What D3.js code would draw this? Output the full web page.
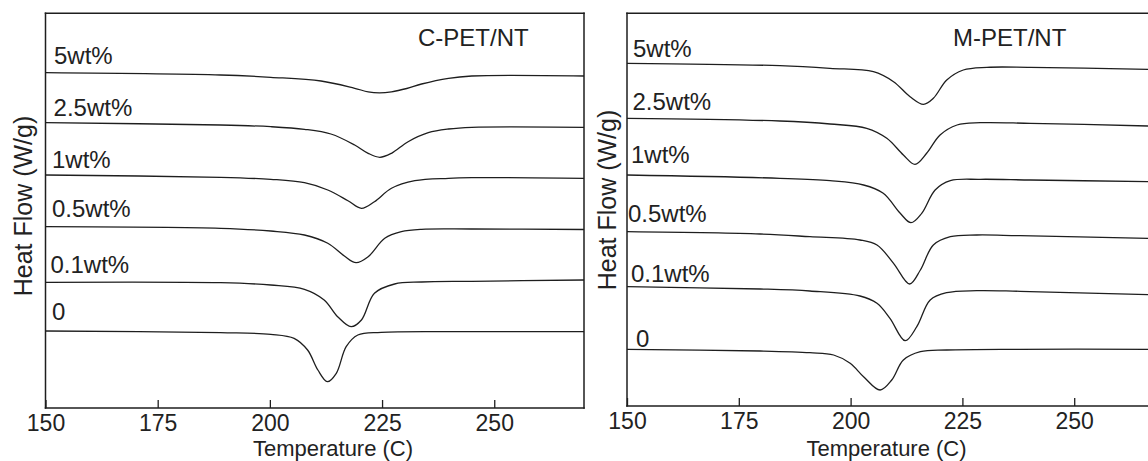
<!DOCTYPE html>
<html>
<head>
<meta charset="utf-8">
<script src="https://cdn.jsdelivr.net/npm/d3@7"></script>
<style>
  html, body { margin: 0; padding: 0; background: #fff; }
  svg { display: block; }
  text { font-family: "Liberation Sans", Arial, Helvetica, sans-serif; fill: #222; }
</style>
</head>
<body>
<svg id="chart" width="1148" height="461"></svg>
<script>
// ---------- data (Temperature °C, offset heat flow, arbitrary units) ----------
const seriesLabels = ["5wt%", "2.5wt%", "1wt%", "0.5wt%", "0.1wt%", "0"];
const xTicks = [150, 175, 200, 225, 250];
const panelTitles = ["C-PET/NT", "M-PET/NT"];
const xAxisTitle = "Temperature (C)";
const yAxisTitle = "Heat Flow (W/g)";

// C-PET/NT curves
const cpet5 = [[150,33.53],[189,33.3],[200.2,33.07],[211.4,32.7],[218.9,31.97],[221.9,31.62],[224.4,31.52],[227.1,31.62],[230.5,31.95],[233.8,32.4],[239.8,32.97],[245,33.2],[270,33.2]];
const cpet25 = [[150,28.53],[189,28.3],[200.2,28.13],[207.7,27.87],[213.6,27.4],[218.9,26.3],[221.9,25.47],[224.5,25.07],[227.1,25.47],[230.8,26.63],[235.3,27.53],[239.8,27.9],[245,28.07],[270,28.07]];
const cpet1 = [[150,23.3],[189,23.07],[200.2,22.87],[207.7,22.53],[212.9,21.8],[217.4,20.73],[220.4,19.97],[223.3,20.63],[227.1,21.97],[232.3,22.73],[239.8,22.97],[245,23.03],[270,22.97]];
const cpet05 = [[150,18.13],[189,17.97],[200.2,17.7],[207.7,17.3],[212.9,16.47],[216.6,15.2],[219.2,14.53],[221.9,15.13],[225.6,16.97],[229.3,17.63],[233.8,17.87],[245,17.9],[270,17.85]];
const cpet01 = [[150,12.57],[189,12.53],[200.2,12.3],[207.7,11.87],[212.1,10.8],[215.1,9.13],[218.1,8.13],[220.4,8.8],[223.3,11.47],[227.8,12.4],[233.8,12.6],[245,12.67],[270,12.8]];
const cpet0 = [[150,7.7],[189,7.53],[200.2,7.37],[205.4,6.97],[208.4,5.8],[210.7,3.8],[212.8,2.63],[214.8,3.47],[217.0,6.13],[219.6,7.3],[224.8,7.57],[245,7.63],[270,7.63]];

// M-PET/NT curves
const mpet5 = [[150,34.27],[184.2,34.03],[195.4,33.77],[205.1,33.43],[209.6,32.43],[213.3,30.93],[216.3,30.17],[218.5,30.77],[221.5,32.6],[225.2,33.6],[230.5,33.87],[240.2,33.87],[266.5,33.67]];
const mpet25 = [[150,28.77],[184.2,28.5],[195.4,28.2],[203.6,27.77],[208.1,26.77],[211.8,25.1],[214.4,24.17],[217.0,25.27],[220.0,27.1],[223.8,28.1],[229.0,28.33],[240.2,28.27],[266.5,28.0]];
const mpet1 = [[150,23.1],[184.2,22.77],[195.4,22.53],[202.9,22.1],[207.3,21.27],[211.1,19.27],[213.5,18.33],[215.9,19.27],[218.9,21.6],[222.3,22.53],[229.0,22.67],[240.2,22.6],[266.5,22.43]];
const mpet05 = [[150,17.43],[179.8,17.2],[190.9,16.93],[202.1,16.6],[205.9,16.1],[209.6,14.27],[213.2,12.2],[215.6,13.6],[218.5,16.1],[222.3,16.93],[228.2,17.1],[237.9,17.03],[266.5,16.77]];
const mpet01 = [[150,11.93],[179.8,11.7],[190.9,11.5],[202.1,11.0],[205.9,10.27],[208.8,8.77],[212.2,6.53],[214.8,7.93],[217.8,10.6],[221.5,11.33],[228.2,11.53],[237.9,11.47],[266.5,11.13]];
const mpet0 = [[150,5.67],[179.8,5.5],[190.9,5.33],[196.2,5.1],[199.9,4.27],[202.9,2.93],[206.6,1.6],[209.2,2.6],[211.8,4.6],[215.6,5.43],[221.5,5.6],[237.9,5.67],[266.5,5.67]];

// ---------- layout ----------
const panels = [
  { title: panelTitles[0], x0: 45.5, x1: 584, top: 13.3, bottom: 408, xMax: 270, closed: true,
    curves: [cpet5, cpet25, cpet1, cpet05, cpet01, cpet0],
    labelPos: [[54,63.5],[53.6,116],[52,168],[52,216.5],[50.5,273],[52,320]],
    titlePos: [418, 46], xTitleX: 333, yTitle: [31.5, 206] },
  { title: panelTitles[1], x0: 627, x1: 1148, top: 13.3, bottom: 406, xMax: 266.5, closed: false,
    curves: [mpet5, mpet25, mpet1, mpet05, mpet01, mpet0],
    labelPos: [[633,56.7],[632.5,110],[631,163.3],[628,221.5],[631,281.5],[636,346.5]],
    titlePos: [953, 46], xTitleX: 886.5, yTitle: [615.5, 200] }
];

const svg = d3.select("#chart");
const ink = "#1e1e1e";

panels.forEach(p => {
  const x = d3.scaleLinear().domain([150, p.xMax]).range([p.x0, p.x1]);
  const y = d3.scaleLinear().domain([0, (p.bottom - p.top) / 10]).range([p.bottom, p.top]);
  const g = svg.append("g");

  // frame
  const frame = [[p.x0, p.bottom, p.x0, p.top], [p.x0, p.top, p.x1, p.top], [p.x0, p.bottom, p.x1, p.bottom]];
  if (p.closed) frame.push([p.x1, p.top, p.x1, p.bottom]);
  g.selectAll("line.frame").data(frame).join("line")
    .attr("class", "frame")
    .attr("x1", d => d[0]).attr("y1", d => d[1]).attr("x2", d => d[2]).attr("y2", d => d[3])
    .attr("stroke", ink).attr("stroke-width", 1.5).attr("stroke-linecap", "square");

  // x axis with inward ticks
  const axis = d3.axisBottom(x).tickValues(xTicks).tickSizeInner(-8).tickSizeOuter(0).tickPadding(7)
    .tickFormat(d3.format("d"));
  const ax = g.append("g").attr("transform", `translate(0,${p.bottom})`).call(axis);
  ax.select(".domain").remove();
  ax.selectAll(".tick line").attr("stroke", ink).attr("stroke-width", 1.3);
  ax.selectAll(".tick text").attr("font-size", 23).attr("fill", "#222")
    .attr("font-family", "'Liberation Sans', Arial, sans-serif");

  // curves
  const line = d3.line().x(d => x(d[0])).y(d => y(d[1])).curve(d3.curveCatmullRom.alpha(0.5));
  g.selectAll("path.curve").data(p.curves).join("path")
    .attr("class", "curve")
    .attr("d", line)
    .attr("fill", "none").attr("stroke", ink).attr("stroke-width", 1.3);

  // series labels
  g.selectAll("text.slabel").data(seriesLabels).join("text")
    .attr("class", "slabel")
    .attr("x", (d, i) => p.labelPos[i][0]).attr("y", (d, i) => p.labelPos[i][1])
    .attr("font-size", 24).text(d => d);

  // panel title
  g.append("text").attr("x", p.titlePos[0]).attr("y", p.titlePos[1])
    .attr("font-size", 24).text(p.title);

  // x axis title
  g.append("text").attr("x", p.xTitleX).attr("y", 455.5).attr("text-anchor", "middle")
    .attr("font-size", 22).text(xAxisTitle);

  // y axis title
  g.append("text").attr("transform", `translate(${p.yTitle[0]},${p.yTitle[1]}) rotate(-90)`)
    .attr("text-anchor", "middle").attr("font-size", 25).text(yAxisTitle);
});
</script>
</body>
</html>
